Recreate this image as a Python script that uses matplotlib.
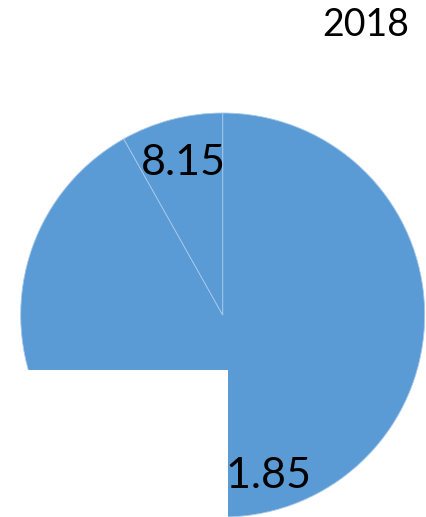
import matplotlib
matplotlib.use("Agg")
import matplotlib.pyplot as plt
from matplotlib.patches import Rectangle

plt.rcParams["font.family"] = ["Lato", "DejaVu Sans"]

# share of each part for 2018 (percent)
title = "2018"
values = [91.85, 8.15]
color = "#5B9BD5"

fig = plt.figure(figsize=(4.26, 5.17), dpi=100)
ax = fig.add_axes([20.7 / 426, 0, 404 / 426, 404 / 517])

wedges, texts, autotexts = ax.pie(
    values,
    colors=[color] * len(values),
    startangle=90,
    counterclock=False,
    radius=1,
    autopct="%.2f",
    pctdistance=0.8,
    wedgeprops={"edgecolor": "#a8c9ea", "linewidth": 0.6},
    textprops={"fontsize": 31, "color": "black"},
)

# small nudges so the value labels sit like the original layout
nudges = [(-0.036, -0.024), (0.01, -0.02)]
for t, (dx, dy) in zip(autotexts, nudges):
    x, y = t.get_position()
    t.set_position((x + dx, y + dy))

ax.set_xlim(-1, 1)
ax.set_ylim(-1, 1)
ax.set_aspect("equal")
ax.axis("off")

# blank block over the lower left corner
ax.add_patch(
    Rectangle(
        (0, 0),
        228 / 426,
        147 / 517,
        transform=fig.transFigure,
        facecolor="white",
        edgecolor="none",
        clip_on=False,
        zorder=10,
    )
)

fig.text(366 / 426, 1 - 24.5 / 517, title, ha="center", va="center", fontsize=27)

fig.savefig("out.png", dpi=100)
plt.close(fig)
